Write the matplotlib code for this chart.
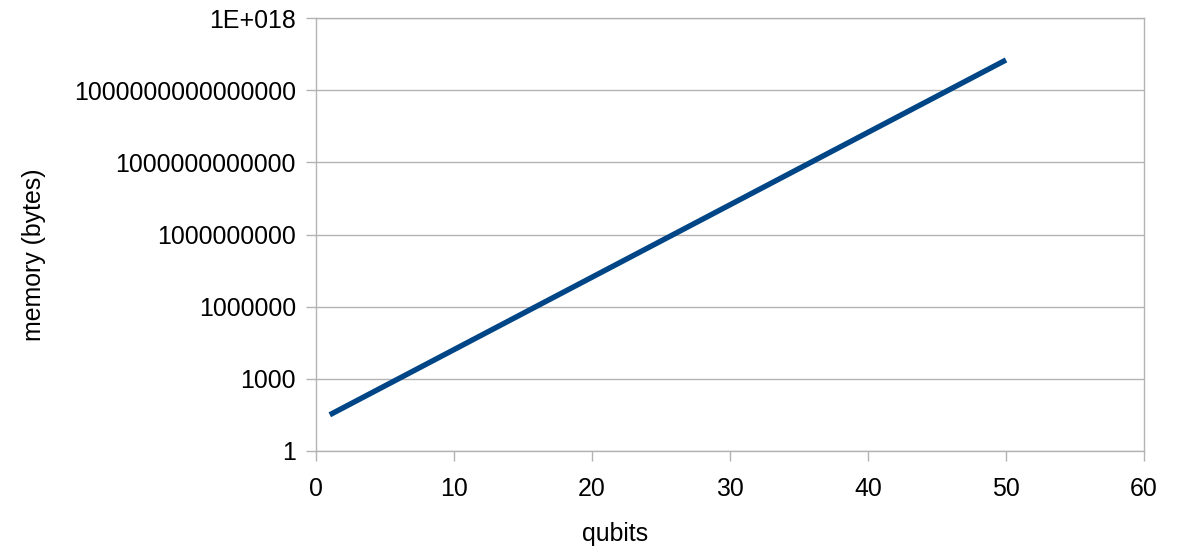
import matplotlib
matplotlib.use("Agg")
import matplotlib.pyplot as plt
from matplotlib.ticker import FixedLocator, FixedFormatter, NullLocator

qubits = list(range(1, 51))
memory_bytes = [
    32, 64, 128, 256, 512, 1024, 2048, 4096, 8192, 16384,
    32768, 65536, 131072, 262144, 524288, 1048576, 2097152, 4194304,
    8388608, 16777216, 33554432, 67108864, 134217728, 268435456,
    536870912, 1073741824, 2147483648, 4294967296, 8589934592,
    17179869184, 34359738368, 68719476736, 137438953472, 274877906944,
    549755813888, 1099511627776, 2199023255552, 4398046511104,
    8796093022208, 17592186044416, 35184372088832, 70368744177664,
    140737488355328, 281474976710656, 562949953421312,
    1125899906842624, 2251799813685248, 4503599627370496,
    9007199254740992, 18014398509481984,
]
y_ticks = [1, 1e3, 1e6, 1e9, 1e12, 1e15, 1e18]
y_tick_labels = ["1", "1000", "1000000", "1000000000", "1000000000000",
                 "1000000000000000", "1E+018"]
x_ticks = [0, 10, 20, 30, 40, 50, 60]

plt.rcParams['font.family'] = ['Liberation Sans', 'DejaVu Sans']

W, H = 1184, 548
fig = plt.figure(figsize=(W / 100, H / 100), dpi=100)
ax = fig.add_axes([316 / W, 1 - 451 / H, (1144 - 316) / W, (451 - 18) / H])

ax.plot(qubits, memory_bytes, color='#004586', linewidth=3.9,
        solid_capstyle='butt', zorder=3)

ax.set_yscale('log')
ax.set_ylim(1, 1e18)
ax.set_xlim(0, 60)
ax.yaxis.set_major_locator(FixedLocator(y_ticks))
ax.yaxis.set_major_formatter(FixedFormatter(y_tick_labels))
ax.yaxis.set_minor_locator(NullLocator())
ax.set_xticks(x_ticks)

grid_c = '#b3b3b3'
ax.grid(True, axis='y', color=grid_c, linewidth=1.0)
for s in ax.spines.values():
    s.set_color(grid_c)
    s.set_linewidth(1.0)
fs = 17.9
ax.tick_params(axis='both', direction='out', length=7.5, width=1.0,
               color=grid_c, labelsize=fs, labelcolor='black')
ax.tick_params(axis='y', pad=7)
ax.tick_params(axis='x', pad=11)

fig.text(615.5 / W, 1 - 534 / H, 'qubits', fontsize=fs,
         ha='center', va='center')
fig.text(34 / W, 1 - 255 / H, 'memory (bytes)', fontsize=fs,
         rotation=90, ha='center', va='center')

fig.savefig('out.png', dpi=100)
